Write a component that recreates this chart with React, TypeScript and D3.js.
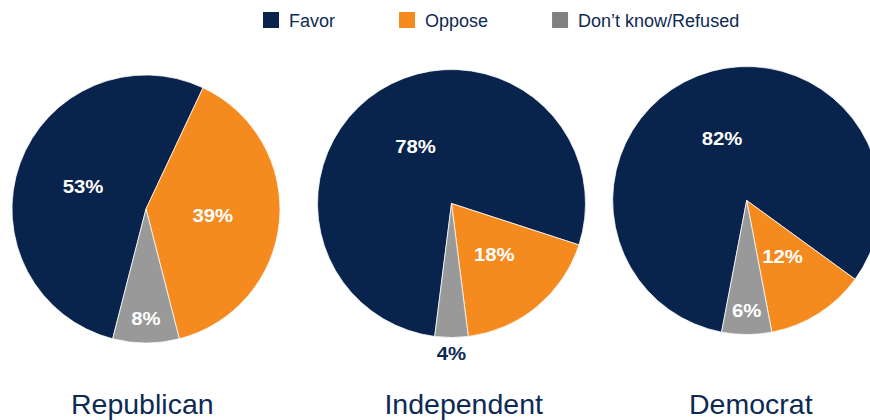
import React, { useRef, useEffect } from 'react';
import * as d3 from 'd3';

// Survey results by party (percent)
const parties = ['Republican', 'Independent', 'Democrat'];
const responses = ['Favor', 'Oppose', 'Don\u2019t know/Refused'];
const favor = [53, 78, 82];
const oppose = [39, 18, 12];
const dontKnow = [8, 4, 6];

const sliceColors = ['#08244d', '#f58a1f', '#999999'];
const legendColors = ['#08244d', '#f58a1f', '#808080'];
const textColor = '#0d2a55';

const WIDTH = 870;
const HEIGHT = 420;
const RADIUS = 134;
const pieCenters = [
  { x: 146, y: 209 },
  { x: 451.5, y: 203.5 },
  { x: 746.7, y: 200.5 },
];
const titleX = [142.3, 463.7, 750.8];

const App: React.FC = () => {
  const svgRef = useRef<SVGSVGElement>(null);

  useEffect(() => {
    if (!svgRef.current) return;
    const svg = d3.select(svgRef.current);
    svg.selectAll('*').remove();

    // Legend
    const legend = svg.append('g').attr('transform', 'translate(263,12)');
    let lx = 0;
    responses.forEach((r, i) => {
      legend
        .append('rect')
        .attr('x', lx)
        .attr('y', 0)
        .attr('width', 16)
        .attr('height', 16)
        .attr('fill', legendColors[i]);
      const t = legend
        .append('text')
        .attr('x', lx + 26)
        .attr('y', 15)
        .attr('font-family', "'Liberation Sans', Arial, sans-serif")
        .attr('font-size', 18)
        .attr('fill', textColor)
        .text(r);
      const w = (t.node() as SVGTextElement).getComputedTextLength();
      lx += 26 + w + 64;
    });

    const arc = d3.arc<d3.PieArcDatum<number>>().innerRadius(0).outerRadius(RADIUS);

    parties.forEach((party, p) => {
      const values = [favor[p], oppose[p], dontKnow[p]];
      const total = d3.sum(values);
      // rotate so the Don't know slice sits centred at the bottom
      const start = Math.PI + (Math.PI * dontKnow[p]) / total;
      const pie = d3
        .pie<number>()
        .sort(null)
        .value((d) => d)
        .startAngle(start)
        .endAngle(start + 2 * Math.PI);
      const arcs = pie(values);

      const g = svg
        .append('g')
        .attr('transform', `translate(${pieCenters[p].x},${pieCenters[p].y})`);

      g.selectAll('path')
        .data(arcs)
        .enter()
        .append('path')
        .attr('d', arc)
        .attr('fill', (_, i) => sliceColors[i])
        .attr('stroke', '#ffffff')
        .attr('stroke-width', 0.75);

      g.selectAll('text')
        .data(arcs)
        .enter()
        .append('text')
        .attr('transform', (d) => {
          const frac = d.value / total;
          const k = frac < 0.05 ? 1.12 : frac < 0.1 ? 0.82 : 0.5;
          const a = (d.startAngle + d.endAngle) / 2;
          return `translate(${Math.sin(a) * RADIUS * k},${-Math.cos(a) * RADIUS * k}) scale(1.16,1)`;
        })
        .attr('text-anchor', 'middle')
        .attr('dy', '0.36em')
        .attr('font-family', "'Liberation Sans', Arial, sans-serif")
        .attr('font-weight', 'bold')
        .attr('font-size', 17.5)
        .attr('fill', (d) => (d.value / total < 0.05 ? textColor : '#ffffff'))
        .text((d) => `${d.value}%`);

      svg
        .append('text')
        .attr('x', titleX[p])
        .attr('y', 414)
        .attr('text-anchor', 'middle')
        .attr('font-family', "'Liberation Sans', Arial, sans-serif")
        .attr('font-size', 28.5)
        .attr('fill', textColor)
        .text(party);
    });
  }, []);

  return (
    <div style={{ position: 'fixed', left: 0, top: 0, background: '#ffffff' }}>
      <svg ref={svgRef} width={WIDTH} height={HEIGHT} style={{ display: 'block' }}></svg>
    </div>
  );
};

export default App;
